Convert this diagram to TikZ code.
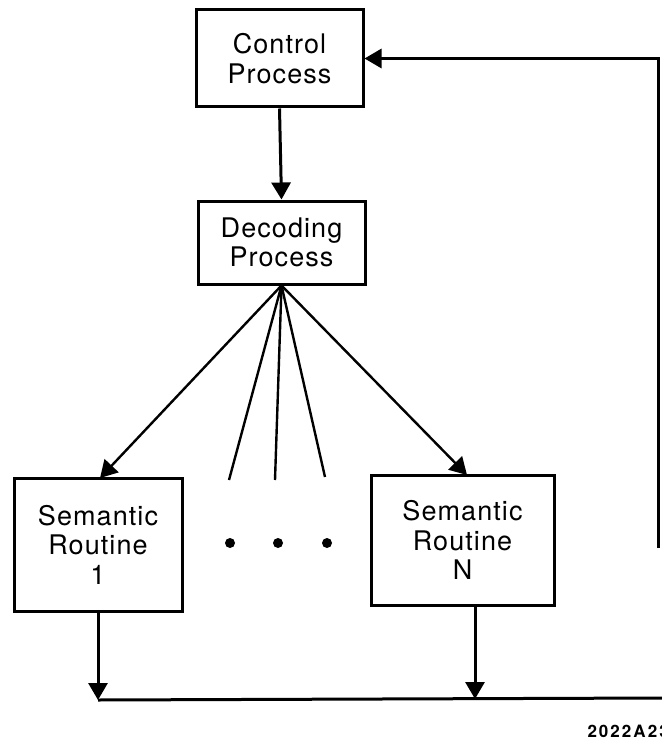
\documentclass[tikz,border=0pt]{standalone}
\usepackage{fontspec}
\setmainfont{TeX Gyre Heros}[LetterSpace=4]
\newfontfamily\numfont{TeX Gyre Heros}[LetterSpace=12]
\usetikzlibrary{arrows.meta,calc}
\begin{document}
\begin{tikzpicture}[x=1pt,y=-1pt,
  line width=3pt,
  procbox/.style={draw,rectangle,align=center,inner sep=0pt,
    font=\fontsize{27}{29.5}\selectfont},
  arr/.style={-{Triangle[length=17pt,width=19pt]}},
  fanline/.style={line width=2.4pt}]
\useasboundingbox (0,0) rectangle (661,741);

% process boxes
\node[procbox,minimum width=167pt,minimum height=97pt] (ctrl) at (279.5,58.5) {Control\\Process};
\node[procbox,minimum width=167pt,minimum height=83pt] (dec) at (281.5,242.5) {Decoding\\Process};
\node[procbox,minimum width=168pt,minimum height=133pt] (r1) at (98,544.5) {Semantic\\Routine\\1};
\node[procbox,minimum width=183pt,minimum height=130pt] (rn) at (462.5,540) {Semantic\\Routine\\N};

% control to decoding
\draw[arr] (ctrl.south) -- (dec.north);

% fan-out from the decoder
\coordinate (fan) at (dec.south);
\coordinate (r1top) at (100,478);
\coordinate (rntop) at (467,475);
\coordinate (f1) at (229,480);
\coordinate (f2) at (275,480);
\coordinate (f3) at (325,477);
\draw[arr,fanline] (fan) -- (r1top);
\draw[arr,fanline] (fan) -- (rntop);
\draw[fanline] (fan) -- (f1);
\draw[fanline] (fan) -- (f2);
\draw[fanline] (fan) -- (f3);

% ellipsis dots
\fill (230,543) circle (5pt);
\fill (278,543) circle (5pt);
\fill (327,543) circle (5pt);

% return bus
\coordinate (b1) at (98,700);
\coordinate (bn) at (475,699);
\coordinate (bend) at (662,698);
\coordinate (rise) at (658,548);
\coordinate (r1out) at (r1.south);
\coordinate (rnout) at (475,605);
\draw[arr] (r1out) -- (b1);
\draw[arr] (rnout) -- (bn);
\draw (b1) -- (bend);
\draw[arr] (rise) |- (ctrl.east);

% drawing number, running off the sheet edge
\begin{scope}
\clip (0,0) rectangle (661,741);
\node[anchor=base west,inner sep=0pt,font=\numfont\fontsize{17}{17}\selectfont\bfseries] (num) at (586,737) {2022A23};
\end{scope}
\end{tikzpicture}
\end{document}
